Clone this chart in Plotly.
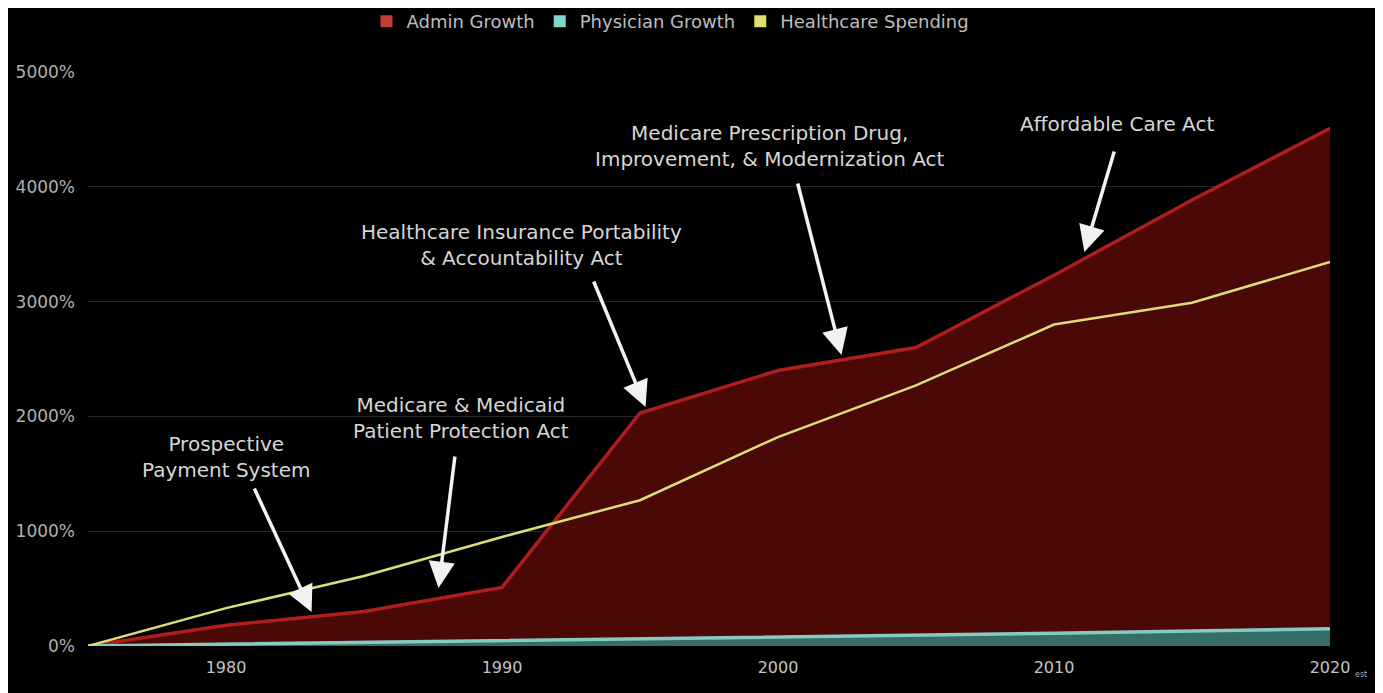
import plotly.graph_objects as go

# values (percent growth since 1975)
years = [1975, 1980, 1985, 1990, 1995, 2000, 2005, 2010, 2015, 2020]
admin_growth = [0, 180, 300, 510, 2030, 2400, 2600, 3230, 3885, 4510]
physician_growth = [0, 15, 30, 45, 60, 75, 90, 110, 130, 150]
healthcare_spending = [0, 330, 610, 950, 1270, 1820, 2270, 2800, 2990, 3345]

y_ticks = [0, 1000, 2000, 3000, 4000, 5000]
x_ticks = [1980, 1990, 2000, 2010, 2020]

# (label, text x, text y, arrow tail x, tail y, arrow head x, head y)
events = [
    ("Prospective<br>Payment System", 1980.0, 1646, 1981.0, 1385, 1983.1, 296),
    ("Medicare & Medicaid<br>Patient Protection Act", 1988.5, 1986, 1988.3, 1664, 1987.7, 505),
    ("Healthcare Insurance Portability<br>& Accountability Act", 1990.7, 3493, 1993.3, 3188, 1995.2, 2082),
    ("Medicare Prescription Drug,<br>Improvement, & Modernization Act", 1999.7, 4355, 2000.7, 4042, 2002.3, 2535),
    ("Affordable Care Act", 2012.3, 4547, 2012.2, 4321, 2011.1, 3432),
]

RED_LINE = "#b01d1d"
RED_FILL = "#4a0907"
TEAL_LINE = "#86cbc3"
TEAL_FILL = "#356d69"
YELLOW = "#dadd78"
FONT = "DejaVu Sans, sans-serif"

fig = go.Figure()

fig.add_trace(go.Scatter(
    x=years, y=admin_growth, mode="lines", fill="tozeroy",
    fillcolor=RED_FILL, line=dict(color=RED_LINE, width=3.5),
    showlegend=False, hoverinfo="skip"))
fig.add_trace(go.Scatter(
    x=years, y=physician_growth, mode="lines", fill="tozeroy",
    fillcolor=TEAL_FILL, line=dict(color=TEAL_LINE, width=3.5),
    showlegend=False, hoverinfo="skip"))
fig.add_trace(go.Scatter(
    x=years, y=healthcare_spending, mode="lines",
    line=dict(color=YELLOW, width=2.5),
    showlegend=False, hoverinfo="skip"))

# legend entries with small square swatches
for name, col in [("Admin Growth", "#c23a3a"),
                  ("Physician Growth", "#7fd6d0"),
                  ("Healthcare Spending", "#e0e070")]:
    fig.add_trace(go.Scatter(x=[None], y=[None], mode="markers", name=name,
                             marker=dict(symbol="square", size=9, color=col)))

annotations = []
for label, tx, ty, ax, ay, hx, hy in events:
    annotations.append(dict(x=tx, y=ty, xref="x", yref="y", text=label,
                            showarrow=False, align="center",
                            font=dict(size=20, color="#d6d6d6")))
    annotations.append(dict(x=hx, y=hy, ax=ax, ay=ay, xref="x", yref="y",
                            axref="x", ayref="y", text="", showarrow=True,
                            arrowhead=2, arrowsize=1.5, arrowwidth=3.5,
                            arrowcolor="#f2f2f2", standoff=0))
annotations.append(dict(x=2020, y=0, xref="x", yref="paper", text="est",
                        showarrow=False, xshift=31, yshift=-35,
                        font=dict(size=8, color="#aaaaaa")))

# page body adds an 8px offset, so the figure is 8px smaller and shifted
fig.update_layout(
    width=1375, height=685,
    paper_bgcolor="#000000", plot_bgcolor="#000000",
    font=dict(family=FONT, color="#bbbbbb"),
    margin=dict(l=80, r=53, t=64, b=47, autoexpand=False),
    showlegend=True,
    legend=dict(orientation="h", x=0.469, y=1.088, xanchor="center",
                yanchor="middle", font=dict(size=18, color="#bdbdbd"),
                bgcolor="rgba(0,0,0,0)", itemsizing="constant",
                itemwidth=30),
    xaxis=dict(range=[1975, 2020], tickvals=x_ticks,
               ticktext=[str(v) for v in x_ticks], showgrid=False,
               zeroline=False, showline=False, ticks="",
               ticklabelstandoff=10,
               tickfont=dict(size=16, color="#c4c4c4")),
    yaxis=dict(range=[0, 5000], tickvals=y_ticks,
               ticktext=[f"{v}%" for v in y_ticks], showgrid=True,
               gridcolor="#262626", gridwidth=1, zeroline=False,
               ticks="", ticklabelstandoff=12,
               tickfont=dict(size=17, color="#b0b0b0")),
    annotations=annotations,
)

fig.write_html("out.html")
